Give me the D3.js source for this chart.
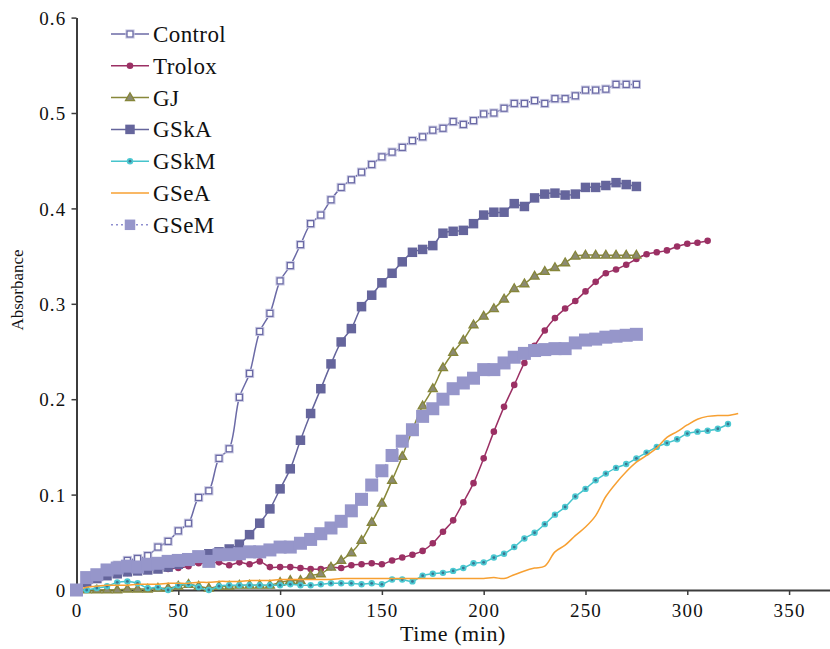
<!DOCTYPE html>
<html>
<head>
<meta charset="utf-8">
<script src="https://cdn.jsdelivr.net/npm/d3@7"></script>
<style>
  html, body { margin: 0; padding: 0; background: #fff; }
  svg { display: block; }
</style>
</head>
<body>
<svg id="chart" width="830" height="649"></svg>
<script>
// ---------- DATA ----------
const times = [0,5,10,15,20,25,30,35,40,45,50,55,60,65,70,75,80,85,90,95,100,105,110,115,120,125,130,135,140,145,150,155,160,165,170,175,180,185,190,195,200,205,210,215,220,225,230,235,240,245,250,255,260,265,270,275,280,285,290,295,300,305,310,315,320,325];

const seriesNames = ["Control","Trolox","GJ","GSkA","GSkM","GSeA","GSeM"];

const control = [0,0.012,0.017,0.022,0.026,0.031,0.033,0.036,0.045,0.051,0.062,0.070,0.097,0.104,0.138,0.148,0.202,0.227,0.271,0.290,0.324,0.340,0.362,0.384,0.393,0.409,0.422,0.430,0.438,0.446,0.454,0.459,0.464,0.471,0.475,0.482,0.484,0.491,0.488,0.492,0.499,0.500,0.505,0.510,0.510,0.513,0.510,0.515,0.515,0.518,0.524,0.524,0.525,0.530,0.530,0.530];

const trolox = [0,0.006,0.012,0.015,0.017,0.018,0.020,0.021,0.022,0.022,0.023,0.025,0.028,0.028,0.029,0.026,0.029,0.027,0.030,0.024,0.024,0.024,0.023,0.022,0.022,0.024,0.023,0.026,0.027,0.028,0.027,0.031,0.034,0.037,0.041,0.049,0.061,0.073,0.092,0.112,0.138,0.166,0.192,0.215,0.238,0.256,0.272,0.285,0.295,0.303,0.313,0.323,0.332,0.336,0.341,0.347,0.352,0.354,0.356,0.360,0.363,0.364,0.366];

const gj = [0,0,0,0,0,0.001,0.001,0.001,0.002,0.002,0.004,0.006,0.004,0.002,0.004,0.004,0.005,0.005,0.005,0.005,0.008,0.010,0.010,0.015,0.017,0.024,0.031,0.039,0.052,0.071,0.091,0.115,0.140,0.168,0.193,0.211,0.233,0.249,0.262,0.278,0.287,0.295,0.305,0.316,0.321,0.329,0.334,0.338,0.343,0.350,0.351,0.351,0.351,0.351,0.351,0.351];

const gska = [0,0.008,0.012,0.015,0.017,0.019,0.020,0.021,0.022,0.024,0.027,0.030,0.034,0.038,0.040,0.043,0.048,0.058,0.070,0.085,0.106,0.127,0.157,0.185,0.211,0.237,0.260,0.274,0.297,0.309,0.322,0.332,0.344,0.354,0.357,0.361,0.374,0.376,0.377,0.384,0.393,0.396,0.396,0.405,0.402,0.411,0.415,0.416,0.414,0.415,0.422,0.422,0.424,0.427,0.425,0.423];

const gskm = [0,0.000,0.002,0.004,0.008,0.009,0.007,0.002,0.003,0.000,0.005,0.006,0.003,0.000,0.004,0.005,0.005,0.005,0.005,0.005,0.005,0.006,0.005,0.005,0.006,0.007,0.007,0.007,0.006,0.007,0.006,0.011,0.011,0.009,0.015,0.017,0.018,0.020,0.023,0.028,0.029,0.034,0.038,0.045,0.054,0.060,0.069,0.079,0.087,0.098,0.106,0.115,0.122,0.128,0.132,0.138,0.144,0.150,0.154,0.158,0.164,0.166,0.167,0.169,0.174];

const gsea = [0,0.003,0.004,0.005,0.005,0.005,0.006,0.006,0.006,0.007,0.007,0.007,0.008,0.008,0.009,0.009,0.009,0.010,0.010,0.010,0.011,0.011,0.011,0.011,0.011,0.011,0.012,0.012,0.012,0.012,0.012,0.012,0.012,0.012,0.012,0.012,0.012,0.012,0.012,0.012,0.012,0.013,0.012,0.016,0.020,0.023,0.025,0.040,0.047,0.057,0.066,0.078,0.098,0.112,0.124,0.134,0.141,0.149,0.160,0.166,0.173,0.179,0.182,0.183,0.183,0.185];

const gsem = [0,0.013,0.016,0.021,0.023,0.025,0.024,0.027,0.028,0.030,0.031,0.032,0.035,0.030,0.037,0.037,0.038,0.040,0.040,0.042,0.045,0.045,0.049,0.053,0.059,0.065,0.072,0.083,0.095,0.110,0.125,0.141,0.156,0.168,0.182,0.190,0.200,0.211,0.217,0.222,0.231,0.231,0.238,0.244,0.248,0.251,0.252,0.253,0.253,0.259,0.262,0.263,0.265,0.266,0.267,0.268];

const xTicks = [0,50,100,150,200,250,300,350];
const yTicks = [0,0.1,0.2,0.3,0.4,0.5,0.6];
const xTitle = "Time (min)";
const yTitle = "Absorbance";

// ---------- STYLE ----------
const styles = {
  Control: {line:"#6b6aa6", dash:null, marker:"openSquare"},
  Trolox:  {line:"#9b3064", dash:null, marker:"circle"},
  GJ:      {line:"#88883a", dash:null, marker:"triangle"},
  GSkA:    {line:"#65659c", dash:null, marker:"square"},
  GSkM:    {line:"#46c4cc", dash:null, marker:"dotCircle"},
  GSeA:    {line:"#f7a032", dash:null, marker:null},
  GSeM:    {line:"#8f8fd0", dash:"2,3", marker:"bigSquare"}
};
const valuesByName = {Control:control, Trolox:trolox, GJ:gj, GSkA:gska, GSkM:gskm, GSeA:gsea, GSeM:gsem};

const svg = d3.select("#chart");
const x = d3.scaleLinear().domain([0,370]).range([76.5, 829.8]);
const y = d3.scaleLinear().domain([0,0.6]).range([590, 17.6]);
const FONT = "'Liberation Serif', 'Times New Roman', serif";

// ---------- AXES ----------
const xAxis = svg.append("g").attr("transform","translate(0,590)")
  .call(d3.axisBottom(x).tickValues(xTicks).tickSize(5).tickSizeOuter(0).tickPadding(4).tickFormat(d3.format("d")));
const yAxis = svg.append("g").attr("transform","translate(76.5,0)")
  .call(d3.axisLeft(y).tickValues(yTicks).tickSize(5).tickSizeOuter(0).tickPadding(5).tickFormat(d => d === 0 ? "0" : d3.format(".1f")(d)));
[xAxis, yAxis].forEach(g => {
  g.attr("font-family", FONT);
  g.select(".domain").attr("stroke","#3c3c3c").attr("stroke-width",2);
  g.selectAll(".tick line").attr("stroke","#3c3c3c").attr("stroke-width",1.5);
  g.selectAll(".tick text").attr("fill","#111").style("font-family",FONT).style("font-size","19px").style("letter-spacing","1.2px");
});
xAxis.selectAll(".tick text").attr("dy","0.95em");
yAxis.selectAll(".tick text").attr("dy","0.35em");

svg.append("text").attr("x",453).attr("y",641).attr("text-anchor","middle")
  .style("font-family",FONT).style("font-size","22px").style("letter-spacing","0.6px").attr("fill","#111").text(xTitle);
svg.append("text").attr("transform","translate(23,290) rotate(-90)").attr("text-anchor","middle")
  .style("font-family",FONT).style("font-size","17px").attr("fill","#111").text(yTitle);

// ---------- MARKERS ----------
function drawMarker(g, type, cx, cy, color, legend) {
  if (type === "openSquare") {
    g.append("rect").attr("x",cx-4).attr("y",cy-4).attr("width",8).attr("height",8)
      .attr("fill","none").attr("stroke","#c9c9e2").attr("stroke-width",1.2);
    g.append("rect").attr("x",cx-3).attr("y",cy-3).attr("width",6).attr("height",6)
      .attr("fill","#fff").attr("stroke",color).attr("stroke-width",1.3);
  } else if (type === "circle") {
    g.append("circle").attr("cx",cx).attr("cy",cy).attr("r",3.3).attr("fill","#9b3064");
  } else if (type === "triangle") {
    const s = 9;
    const h = s*Math.sqrt(3)/2;
    g.append("path").attr("d",`M${cx},${cy-h*0.62}L${cx+s/2},${cy+h*0.38}L${cx-s/2},${cy+h*0.38}Z`)
      .attr("fill","#8b8a72").attr("stroke","#86863a").attr("stroke-width",1.3);
  } else if (type === "square") {
    const s = 9.5;
    g.append("rect").attr("x",cx-s/2).attr("y",cy-s/2).attr("width",s).attr("height",s).attr("fill","#65659c");
  } else if (type === "dotCircle") {
    g.append("circle").attr("cx",cx).attr("cy",cy).attr("r",3.2).attr("fill","#4cc9d2");
    g.append("circle").attr("cx",cx).attr("cy",cy).attr("r",1.4).attr("fill","#3a7590");
  } else if (type === "bigSquare") {
    const s = legend ? 10.5 : 13;
    g.append("rect").attr("x",cx-s/2).attr("y",cy-s/2).attr("width",s).attr("height",s).attr("fill","#9696ca");
  }
}

// ---------- SERIES ----------
const line = d3.line().x(d => x(d.t)).y(d => y(d.v)).curve(d3.curveCatmullRom.alpha(0.5));
seriesNames.forEach(name => {
  const st = styles[name];
  const data = valuesByName[name].map((v,i) => ({t: times[i], v}));
  const g = svg.append("g");
  g.append("path").datum(data).attr("d", line).attr("fill","none")
    .attr("stroke", st.line).attr("stroke-width", 1.5)
    .attr("stroke-dasharray", st.dash);
  if (st.marker) data.forEach(d => drawMarker(g, st.marker, x(d.t), y(d.v), st.line, false));
});

// ---------- LEGEND ----------
const legend = svg.append("g");
seriesNames.forEach((name, i) => {
  const st = styles[name];
  const cy = 34 + i * 31.8;
  legend.append("line").attr("x1",111).attr("x2",149).attr("y1",cy).attr("y2",cy)
    .attr("stroke", st.line).attr("stroke-width", 1.5).attr("stroke-dasharray", st.dash);
  if (st.marker) drawMarker(legend, st.marker, 130, cy, st.line, true);
  legend.append("text").attr("x",153).attr("y",cy).attr("dy","0.35em")
    .style("font-family",FONT).style("font-size","23px").style("letter-spacing","0.4px").attr("fill","#111").text(name);
});
</script>
</body>
</html>
